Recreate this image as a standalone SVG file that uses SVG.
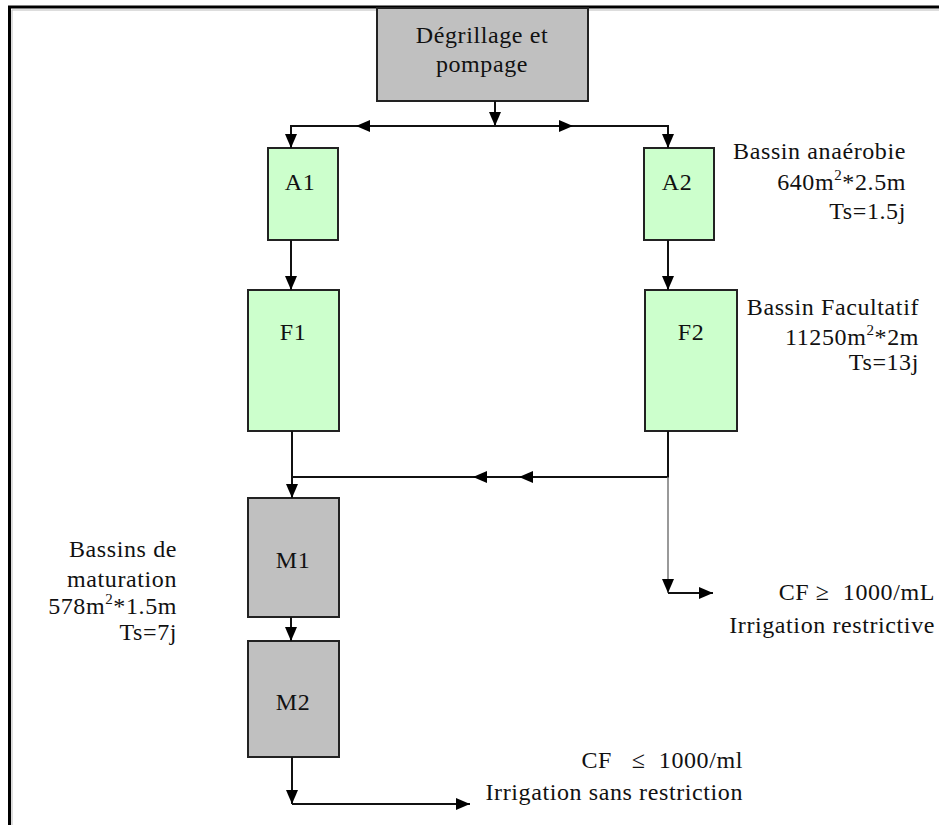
<svg xmlns="http://www.w3.org/2000/svg" width="939" height="825" viewBox="0 0 939 825">
<defs>
<marker id="ah" viewBox="0 0 14 12" refX="14" refY="6" markerWidth="14" markerHeight="12" markerUnits="userSpaceOnUse" orient="auto">
<path d="M0,0 L14,6 L0,12 z" fill="#000"/>
</marker>
<style>
text{font-family:"Liberation Serif","DejaVu Serif","Times New Roman",serif;font-size:24px;fill:#111;letter-spacing:0.6px;white-space:pre}
.g rect{fill:#C0C0C0;stroke:#222;stroke-width:2}
.v rect{fill:#CCFFCC;stroke:#222;stroke-width:2}
.c path{fill:none;stroke:#111;stroke-width:2}
.c path.thin{stroke:#777;stroke-width:1.5}
.mid{text-anchor:middle}
.end{text-anchor:end}
.sup{font-size:15px}
</style>
</defs>
<rect width="939" height="825" fill="#fff"/>
<g id="frame">
<path d="M9.5,825 V7 H939" fill="none" stroke="#000" stroke-width="3"/>
<path d="M12,825 V10 H939" fill="none" stroke="#bbb" stroke-width="1"/>
</g>
<g id="degrillage" class="g">
<rect x="377" y="8" width="211" height="93"/>
<text x="482" y="43" class="mid" font-family="Liberation Serif, serif">Dégrillage et</text>
<text x="482" y="72" class="mid" font-family="Liberation Serif, serif">pompage</text>
</g>
<g id="A1" class="v">
<rect x="268" y="148" width="70" height="92"/>
<text x="300" y="190" class="mid">A1</text>
</g>
<g id="A2" class="v">
<rect x="644" y="148" width="70" height="92"/>
<text x="677" y="190" class="mid">A2</text>
</g>
<g id="F1" class="v">
<rect x="248" y="290" width="91" height="141"/>
<text x="293" y="340" class="mid">F1</text>
</g>
<g id="F2" class="v">
<rect x="645" y="290" width="92" height="141"/>
<text x="691" y="340" class="mid">F2</text>
</g>
<g id="M1" class="g">
<rect x="248" y="498" width="91" height="119"/>
<text x="293" y="568" class="mid">M1</text>
</g>
<g id="M2" class="g">
<rect x="248" y="641" width="91" height="116"/>
<text x="293" y="710" class="mid">M2</text>
</g>
<g id="labels">
<text x="906" y="159" class="end">Bassin anaérobie</text>
<text x="906" y="190" class="end">640m<tspan class="sup" dy="-10">2</tspan><tspan dy="10">*2.5m</tspan></text>
<text x="906" y="219" class="end">Ts=1.5j</text>
<text x="919" y="315" class="end">Bassin Facultatif</text>
<text x="919" y="345" class="end">11250m<tspan class="sup" dy="-10">2</tspan><tspan dy="10">*2m</tspan></text>
<text x="919" y="370" class="end">Ts=13j</text>
<text x="177" y="557" class="end">Bassins de</text>
<text x="177" y="587" class="end">maturation</text>
<text x="177" y="614" class="end">578m<tspan class="sup" dy="-10">2</tspan><tspan dy="10">*1.5m</tspan></text>
<text x="177" y="640" class="end">Ts=7j</text>
<text x="935" y="600" class="end">CF ≥  1000/mL</text>
<text x="935" y="633" class="end">Irrigation restrictive</text>
<text x="743" y="768" class="end">CF   ≤  1000/ml</text>
<text x="743" y="800" class="end">Irrigation sans restriction</text>
</g>
<g id="connectors" class="c">
<path d="M495,101 V126" marker-end="url(#ah)"/>
<path d="M495,126 H356" marker-end="url(#ah)"/>
<path d="M356,126 H291 V148" marker-end="url(#ah)"/>
<path d="M495,126 H573" marker-end="url(#ah)"/>
<path d="M573,126 H668 V148" marker-end="url(#ah)"/>
<path d="M291,240 V290" marker-end="url(#ah)"/>
<path d="M668,240 V290" marker-end="url(#ah)"/>
<path d="M668,431 V477 H519" marker-end="url(#ah)"/>
<path d="M519,477 H473" marker-end="url(#ah)"/>
<path d="M473,477 H292"/>
<path d="M292,431 V498" marker-end="url(#ah)"/>
<path class="thin" d="M668,477 V593" marker-end="url(#ah)"/>
<path d="M668,593 H713" marker-end="url(#ah)"/>
<path d="M291,617 V641" marker-end="url(#ah)"/>
<path d="M292,757 V804" marker-end="url(#ah)"/>
<path d="M292,804 H470" marker-end="url(#ah)"/>
</g>
</svg>
